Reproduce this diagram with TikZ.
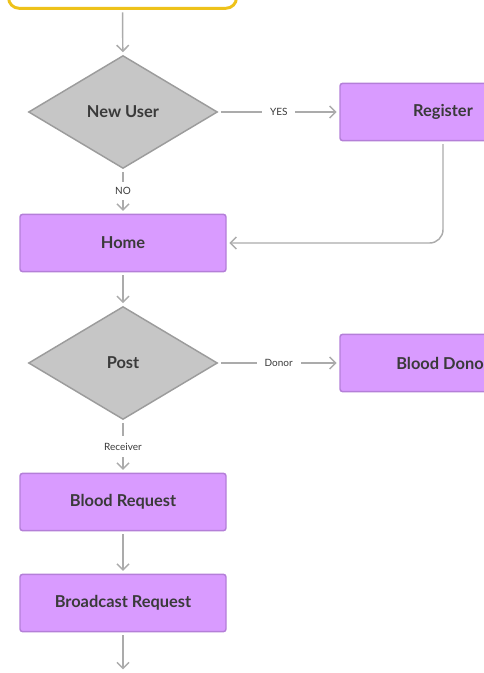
\documentclass[tikz,border=0pt]{standalone}
\usepackage{fontspec}
\setmainfont{Lato}
\usetikzlibrary{arrows.meta,shapes.geometric}
\definecolor{boxfill}{HTML}{D99BFF}
\definecolor{boxline}{HTML}{B47FD8}
\definecolor{decfill}{HTML}{C6C6C6}
\definecolor{decline}{HTML}{9C9C9C}
\definecolor{flowgray}{HTML}{ABABAB}
\definecolor{txt}{HTML}{3A3A3A}
\definecolor{startline}{HTML}{EEC21A}

\begin{document}
\begin{tikzpicture}[x=0.75pt,y=-0.75pt,
	box/.style={rectangle, draw=boxline, fill=boxfill, line width=1.1pt, rounded corners=2pt, minimum width=154.5pt, minimum height=43pt, inner sep=0pt, text=txt, font=\bfseries\fontsize{12.3}{14}\selectfont},
	decision/.style={diamond, draw=decline, fill=decfill, line width=1.1pt, inner sep=0pt, minimum width=141.7pt, minimum height=84.7pt, text=txt, font=\bfseries\fontsize{12.3}{14}\selectfont},
	flow/.style={draw=flowgray, line width=1.1pt, -{Straight Barb[length=4.5pt,width=9pt]}, shorten <=2pt, shorten >=2pt},
	cond/.style={fill=white, inner xsep=6pt, inner ysep=1pt, text=txt, font=\fontsize{7.5}{8}\selectfont}]
	\useasboundingbox (0,0) rectangle (484,673);
	\clip (0,0) rectangle (484,673);
	
	\node[rectangle, draw=startline, fill=white, line width=2.2pt, rounded corners=8pt, minimum width=171pt, minimum height=50pt] (start) at (122.5,-25) {};
	\node[anchor=base, inner sep=0pt, font=\fontsize{22}{24}\selectfont] (glyph) at (68,-5) {g};
	
	\node[decision] (newuser) at (123,112) {New User};
	\node[box] (register) at (443,112) {Register};
	\node[box] (home) at (123,243) {Home};
	\node[decision] (post) at (123,363) {Post};
	\node[box] (donor) at (443,363) {Blood Donor};
	\node[box] (request) at (123,502) {Blood Request};
	\node[box] (broadcast) at (123,603) {Broadcast Request};
	\coordinate (out) at (123,672);
	
	\draw[flow] (start) -- (newuser);
	\draw[flow] (newuser) -- node[cond] {YES} (register);
	\draw[flow] (newuser) -- node[cond, inner xsep=1pt, inner ysep=4pt] {NO} (home);
	\draw[flow, rounded corners=10pt] (register.south) |- (home.east);
	\draw[flow] (home) -- (post);
	\draw[flow] (post) -- node[cond] {Donor} (donor);
	\draw[flow] (post) -- node[cond, inner xsep=1pt, inner ysep=5pt] {Receiver} (request);
	\draw[flow] (request) -- (broadcast);
	\draw[flow] (broadcast) -- (out);
\end{tikzpicture}
\end{document}
